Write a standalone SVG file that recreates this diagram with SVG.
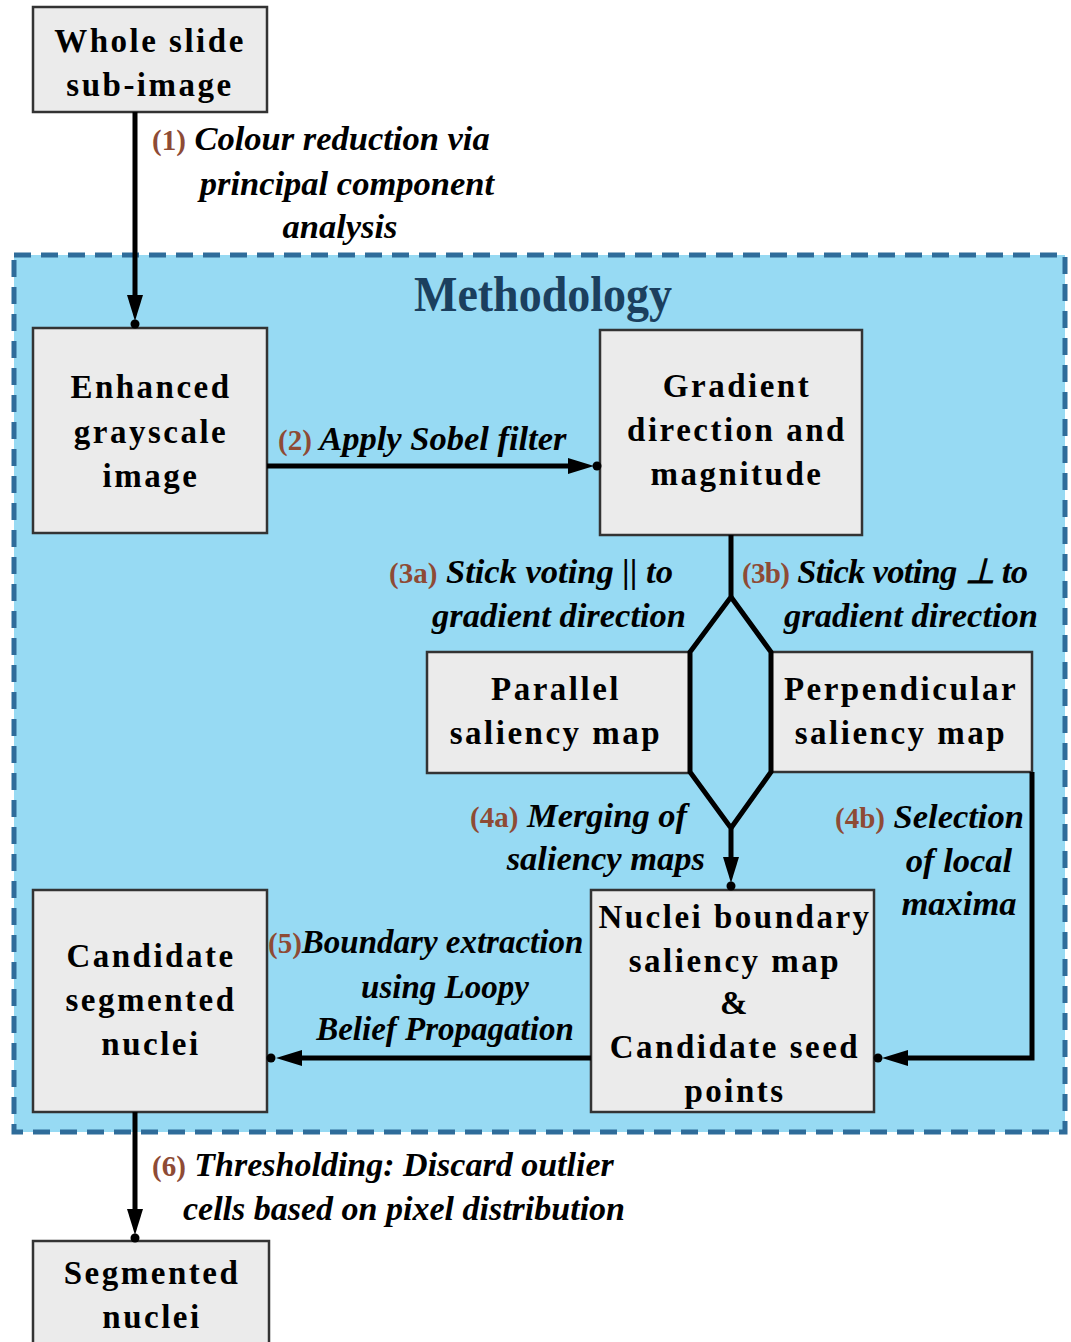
<svg xmlns="http://www.w3.org/2000/svg" width="1071" height="1342" viewBox="0 0 1071 1342">
<style>
.box{fill:#EBEBEB;stroke:#333;stroke-width:2.5}
.bt{font-family:"Liberation Serif","Times New Roman",serif;font-weight:bold;font-size:33px;letter-spacing:2.5px;text-anchor:middle;fill:#000}
.lb{font-family:"Liberation Serif","Times New Roman",serif;font-weight:bold;font-style:italic;font-size:34.5px;fill:#000}
.num{font-style:normal;font-size:29px;fill:#8E4B35}
.ln{stroke:#000;stroke-width:5;fill:none;stroke-linejoin:miter}
</style>
<rect width="1071" height="1342" fill="#fff"/>
<g id="methodology">
<rect x="14" y="255" width="1051" height="877" fill="#97DAF3" stroke="#2F6C9A" stroke-width="5" stroke-dasharray="17,10"/>
<text x="543" y="311" font-family="Liberation Serif,serif" font-weight="bold" font-size="50" fill="#1B3F5E" text-anchor="middle" textLength="258" lengthAdjust="spacingAndGlyphs">Methodology</text>
</g>
<g id="n-whole">
<rect class="box" x="33" y="7" width="234" height="105"/>
<text class="bt" x="150" y="52">Whole slide</text>
<text class="bt" x="150" y="96">sub-image</text>
</g>
<g id="n-enhanced">
<rect class="box" x="33" y="328" width="234" height="205"/>
<text class="bt" x="151" y="398">Enhanced</text>
<text class="bt" x="151" y="443">grayscale</text>
<text class="bt" x="151" y="487">image</text>
</g>
<g id="n-gradient">
<rect class="box" x="600" y="330" width="262" height="205"/>
<text class="bt" x="737" y="397">Gradient</text>
<text class="bt" x="737" y="441">direction and</text>
<text class="bt" x="737" y="485">magnitude</text>
</g>
<g id="n-parallel">
<rect class="box" x="427" y="652" width="263" height="121"/>
<text class="bt" x="556" y="700">Parallel</text>
<text class="bt" x="556" y="744">saliency map</text>
</g>
<g id="n-perp">
<rect class="box" x="771" y="652" width="261" height="120"/>
<text class="bt" x="901" y="700">Perpendicular</text>
<text class="bt" x="901" y="744">saliency map</text>
</g>
<g id="n-nuclei">
<rect class="box" x="591" y="890" width="283" height="222"/>
<text class="bt" x="735" y="928">Nuclei boundary</text>
<text class="bt" x="735" y="972">saliency map</text>
<text class="bt" x="735" y="1014">&amp;</text>
<text class="bt" x="735" y="1058">Candidate seed</text>
<text class="bt" x="735" y="1102">points</text>
</g>
<g id="n-candidate">
<rect class="box" x="33" y="890" width="234" height="222"/>
<text class="bt" x="151" y="967">Candidate</text>
<text class="bt" x="151" y="1011">segmented</text>
<text class="bt" x="151" y="1055">nuclei</text>
</g>
<g id="n-segmented">
<rect class="box" x="33" y="1241" width="236" height="110"/>
<text class="bt" x="152" y="1284">Segmented</text>
<text class="bt" x="152" y="1328">nuclei</text>
</g>
<g id="connectors">
<line class="ln" x1="135" y1="112" x2="135" y2="298"/>
<polygon points="127,295 143,295 135,321"/>
<circle cx="135" cy="324" r="4.5"/>
<line class="ln" x1="267" y1="466" x2="572" y2="466"/>
<polygon points="568,458 568,474 594,466"/>
<circle cx="597" cy="466" r="4.5"/>
<polyline class="ln" points="731,535 731,597 690,652 690,772 731,828 731,860"/>
<polyline class="ln" points="731,597 771,652 771,772 731,828"/>
<polygon points="723,857 739,857 731,883"/>
<circle cx="731" cy="886" r="4.5"/>
<polyline class="ln" points="1032,772 1032,1058 905,1058"/>
<polygon points="908,1050 908,1066 882,1058"/>
<circle cx="878" cy="1058" r="4.5"/>
<line class="ln" x1="591" y1="1058" x2="298" y2="1058"/>
<polygon points="302,1050 302,1066 276,1058"/>
<circle cx="271" cy="1058" r="4.5"/>
<line class="ln" x1="135" y1="1112" x2="135" y2="1212"/>
<polygon points="127,1209 143,1209 135,1235"/>
<circle cx="135" cy="1238" r="4.5"/>
</g>
<g id="labels">
<text class="lb" x="152" y="150" font-size="35"><tspan class="num">(1)</tspan> Colour reduction via</text>
<text class="lb" x="494" y="195" text-anchor="end" font-size="35">principal component</text>
<text class="lb" x="340" y="238" text-anchor="middle" font-size="35">analysis</text>
<text class="lb" x="278" y="450"><tspan class="num">(2)</tspan> Apply Sobel filter</text>
<text class="lb" x="389" y="583"><tspan class="num">(3a)</tspan> Stick voting || to</text>
<text class="lb" x="686" y="627" text-anchor="end">gradient direction</text>
<text class="lb" x="742" y="583" textLength="286"><tspan class="num">(3b)</tspan> Stick voting ⊥ to</text>
<text class="lb" x="1038" y="627" text-anchor="end">gradient direction</text>
<text class="lb" x="470" y="827"><tspan class="num">(4a)</tspan> Merging of</text>
<text class="lb" x="705" y="870" text-anchor="end">saliency maps</text>
<text class="lb" x="835" y="828"><tspan class="num">(4b)</tspan> Selection</text>
<text class="lb" x="959" y="872" text-anchor="middle">of local</text>
<text class="lb" x="959" y="915" text-anchor="middle">maxima</text>
<text class="lb" x="268" y="953" style="font-size:33px"><tspan class="num">(5)</tspan>Boundary extraction</text>
<text class="lb" x="445" y="998" text-anchor="middle" style="font-size:33px">using Loopy</text>
<text class="lb" x="445" y="1040" text-anchor="middle" style="font-size:33px">Belief Propagation</text>
<text class="lb" x="152" y="1176" style="font-size:34px"><tspan class="num">(6)</tspan> Thresholding: Discard outlier</text>
<text class="lb" x="625" y="1220" text-anchor="end" style="font-size:34px">cells based on pixel distribution</text>
</g>
</svg>
